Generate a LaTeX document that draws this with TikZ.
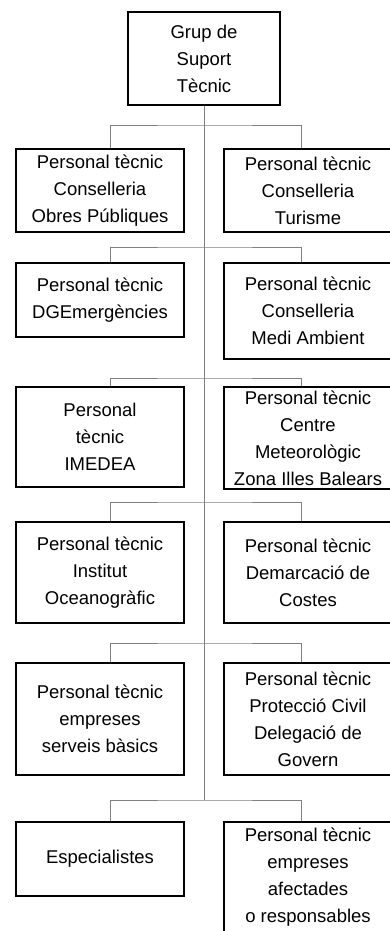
\documentclass[tikz,border=0pt]{standalone}
\usepackage{fontspec}
\setmainfont{Liberation Sans}
\begin{document}
\begin{tikzpicture}[
    x=1pt, y=-1pt,
    box/.style={rectangle, draw, line width=1.2pt, minimum width=168pt, inner sep=0pt,
                align=center, font=\fontsize{18.5}{27}\selectfont},
    link/.style={draw=gray, line width=0.9pt}
]
    \useasboundingbox (0,0) rectangle (390,931);

    \node[box, minimum width=152pt, minimum height=93pt] (top) at (204,58.5) {Grup de\\Suport\\Tècnic};

    \node[box, minimum height=83pt] (l1) at (100,190.5) {Personal tècnic\\Conselleria\\Obres Públiques};
    \node[box, minimum height=83pt] (r1) at (308,190.5) {Personal tècnic\\Conselleria\\Turisme};

    \node[box, minimum height=74pt] (l2) at (100,300) {Personal tècnic\\DGEmergències};
    \node[box, minimum height=96pt] (r2) at (308,311) {Personal tècnic\\Conselleria\\Medi Ambient};

    \node[box, minimum height=100pt] (l3) at (100,437) {Personal\\tècnic\\IMEDEA};
    \node[box, minimum height=102pt] (r3) at (308,438) {Personal tècnic\\Centre\\Meteorològic\\Zona Illes Balears};

    \node[box, minimum height=101pt] (l4) at (100,572.5) {Personal tècnic\\Institut\\Oceanogràfic};
    \node[box, minimum height=101pt] (r4) at (308,572.5) {Personal tècnic\\Demarcació de\\Costes};

    \node[box, minimum height=112pt] (l5) at (100,719) {Personal tècnic\\empreses\\serveis bàsics};
    \node[box, minimum height=112pt] (r5) at (308,719) {Personal tècnic\\Protecció Civil\\Delegació de\\Govern};

    \node[box, minimum height=74pt] (l6) at (100,859) {Especialistes};
    \node[box, minimum height=110pt] (r6) at (308,877) {Personal tècnic\\empreses\\afectades\\o responsables};

    % punts d'unio sobre el tronc
    \coordinate (h1) at (204,125);
    \coordinate (h2) at (204,247);
    \coordinate (h3) at (204,378);
    \coordinate (h4) at (204,502);
    \coordinate (h5) at (204,643);
    \coordinate (h6) at (204,800);

    \draw[link] (top.south) -- (h6);
    \draw[link] ([xshift=10pt]l1.north) |- (h1) -| ([xshift=-7pt]r1.north);
    \draw[link] ([xshift=10pt]l2.north) |- (h2) -| ([xshift=-7pt]r2.north);
    \draw[link] ([xshift=10pt]l3.north) |- (h3) -| ([xshift=-7pt]r3.north);
    \draw[link] ([xshift=10pt]l4.north) |- (h4) -| ([xshift=-7pt]r4.north);
    \draw[link] ([xshift=10pt]l5.north) |- (h5) -| ([xshift=-7pt]r5.north);
    \draw[link] ([xshift=10pt]l6.north) |- (h6) -| ([xshift=-7pt]r6.north);
\end{tikzpicture}
\end{document}
